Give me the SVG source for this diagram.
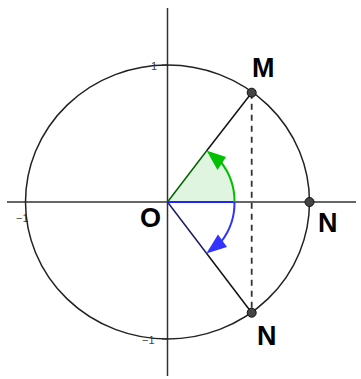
<svg xmlns="http://www.w3.org/2000/svg" width="361" height="379" viewBox="0 0 361 379">
<style>
.ax{stroke:#333;stroke-width:1.5;fill:none}
.tk{stroke:#333;stroke-width:1}
.tl{font-family:"Liberation Sans",Arial,sans-serif;font-size:11px;fill:#444}
.lb{font-family:"Liberation Sans",Arial,sans-serif;font-size:27px;font-weight:bold;fill:#000}
.pt{fill:#444;stroke:#111;stroke-width:1}
</style>
<rect width="361" height="379" fill="#fff"/>
<g id="axes">
<line class="ax" x1="7" y1="202" x2="356" y2="202"/>
<line class="ax" x1="167.5" y1="8" x2="167.5" y2="376"/>
<line class="tk" x1="25.5" y1="202" x2="25.5" y2="207"/>
<line class="tk" x1="309.5" y1="202" x2="309.5" y2="208"/>
<line class="tk" x1="162" y1="65" x2="167.5" y2="65"/>
<line class="tk" x1="162" y1="339" x2="167.5" y2="339"/>
<text class="tl" x="151" y="70">1</text>
<text class="tl" x="16" y="222">−1</text>
<text class="tl" x="142" y="344">−1</text>
</g>
<g id="circle">
<ellipse cx="167.5" cy="202" rx="142" ry="137" fill="none" stroke="#222" stroke-width="1.5"/>
</g>
<g id="connectors">
<path d="M167.5,202 L234.5,202 A67,65 0 0 0 206.5,151 Z" fill="#dff5df" stroke="none"/>
<line x1="251.7" y1="92.7" x2="251.7" y2="312.7" stroke="#333" stroke-width="1.8" stroke-dasharray="6,5"/>
<line x1="206.5" y1="151" x2="251.7" y2="92.7" stroke="#111" stroke-width="1.5"/>
<line x1="167.5" y1="202" x2="206.5" y2="151" stroke="#006400" stroke-width="1.5"/>
<line x1="206.3" y1="253" x2="251.7" y2="312.7" stroke="#111" stroke-width="1.5"/>
<line x1="167.5" y1="202" x2="206.3" y2="253" stroke="#1a1a66" stroke-width="1.5"/>
<line x1="167.5" y1="202" x2="234.5" y2="202" stroke="#2222ff" stroke-width="2"/>
<path d="M234.5,202 A67,65 0 0 0 220,161" fill="none" stroke="#00c000" stroke-width="2"/>
<polygon points="206.5,150.5 226,157 217.5,170" fill="#00c000"/>
<path d="M234.5,202 A67,65 0 0 1 221,242" fill="none" stroke="#3333ff" stroke-width="2"/>
<polygon points="206.3,253.5 218,234.5 227,247" fill="#3333ff"/>
</g>
<g id="M">
<circle class="pt" cx="251.7" cy="92.7" r="4.5"/>
<text class="lb" x="252" y="77">M</text>
</g>
<g id="O">
<text class="lb" x="140" y="227">O</text>
</g>
<g id="N1">
<circle class="pt" cx="309.5" cy="202" r="4.5"/>
<text class="lb" x="318" y="232">N</text>
</g>
<g id="N2">
<circle class="pt" cx="251.7" cy="312.7" r="4.5"/>
<text class="lb" x="257" y="345">N</text>
</g>
</svg>
